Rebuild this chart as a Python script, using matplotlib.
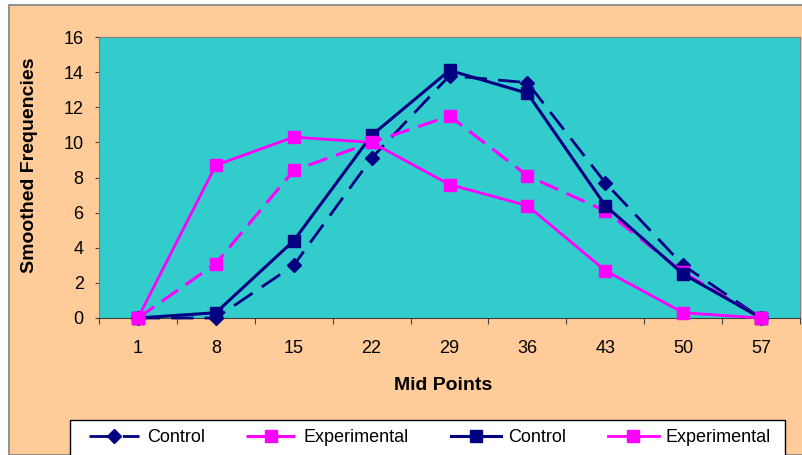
import numpy as np, matplotlib; matplotlib.use("Agg")
import matplotlib.pyplot as plt
from matplotlib.patches import Rectangle
from matplotlib.lines import Line2D

mid_points = ["1", "8", "15", "22", "29", "36", "43", "50", "57"]
control_a = [0, 0, 3.0, 9.1, 13.8, 13.4, 7.7, 3.0, 0]        # dashed, diamonds
experimental_a = [0, 3.1, 8.4, 10.0, 11.5, 8.1, 6.1, 2.6, 0]  # dashed, squares
control_b = [0, 0.3, 4.4, 10.4, 14.1, 12.8, 6.4, 2.5, 0]      # solid, squares
experimental_b = [0, 8.7, 10.3, 10.0, 7.6, 6.4, 2.7, 0.3, 0]  # solid, squares
y_ticks = [0, 2, 4, 6, 8, 10, 12, 14, 16]

plt.rcParams["font.family"] = ["Liberation Sans", "DejaVu Sans"]
W, H = 802, 455
fig = plt.figure(figsize=(W / 100, H / 100), dpi=100)
fig.patch.set_facecolor("white")
# peach chart area with grey border
fig.add_artist(Rectangle((9 / W, 0), 1, 1 - 5 / H, transform=fig.transFigure,
                         facecolor="#FFCC99", edgecolor="#808080", lw=1.2, zorder=0))

ax = fig.add_axes([99 / W, 1 - 318 / H, 701 / W, 281 / H])
ax.set_facecolor("#33CCCC")
x = np.arange(len(mid_points))
navy, mag = "#000080", "#FF00FF"
dash_n, dash_m = (0, (8, 4)), (0, (6.5, 3))
ax.plot(x, control_a, color=navy, lw=2, ls=dash_n, marker="D", ms=7, zorder=3)
ax.plot(x, experimental_a, color=mag, lw=2.2, ls=dash_m, marker="s", ms=8, zorder=3)
ax.plot(x, control_b, color=navy, lw=2.2, marker="s", ms=9, zorder=4)
ax.plot(x, experimental_b, color=mag, lw=2, marker="s", ms=8, zorder=4)
for m in ax.lines:
    m.set_clip_on(False)

ax.set_xlim(-0.5, len(mid_points) - 0.5)
ax.set_ylim(0, 16)
ax.set_yticks(y_ticks)
ax.tick_params(axis="y", direction="out", length=3, pad=8, labelsize=13, color="#404040")
ax.set_xticks(np.arange(-0.5, len(mid_points), 1))
ax.set_xticklabels([])
ax.set_xticks(x, minor=True)
ax.set_xticklabels(mid_points, minor=True)
ax.tick_params(axis="x", which="major", direction="out", length=4, color="#404040")
ax.tick_params(axis="x", which="minor", length=0, pad=16, labelsize=13)
for s in ax.spines.values():
    s.set_color("#808080")
ax.spines["bottom"].set_color("#404040")

fig.text(443 / W, 1 - 385 / H, "Mid Points", ha="center", va="center",
         fontsize=14, fontweight="bold")
fig.text(29 / W, 1 - 165 / H, "Smoothed Frequencies", ha="center", va="center",
         rotation=90, fontsize=14, fontweight="bold")

# legend box, cut off by the bottom edge
fig.add_artist(Rectangle((70 / W, -0.05), 715 / W, 0.05 + 1 - 420 / H,
                         transform=fig.transFigure, facecolor="white",
                         edgecolor="black", lw=1, zorder=1))
handles = [
    Line2D([], [], color=navy, lw=2, ls=dash_n, marker="D", ms=7),
    Line2D([], [], color=mag, lw=2.2, ls=dash_m, marker="s", ms=8),
    Line2D([], [], color=navy, lw=2.2, marker="s", ms=9),
    Line2D([], [], color=mag, lw=2, marker="s", ms=8),
]
labels = ["Control", "Experimental", "Control", "Experimental"]
leg = fig.legend(handles, labels, ncol=4, loc="center", frameon=False,
                 bbox_to_anchor=(430 / W, 1 - 438 / H), fontsize=13,
                 handlelength=2.8, handletextpad=0.4, columnspacing=2.3)
leg.set_zorder(2)

fig.savefig("out.png", dpi=100)
